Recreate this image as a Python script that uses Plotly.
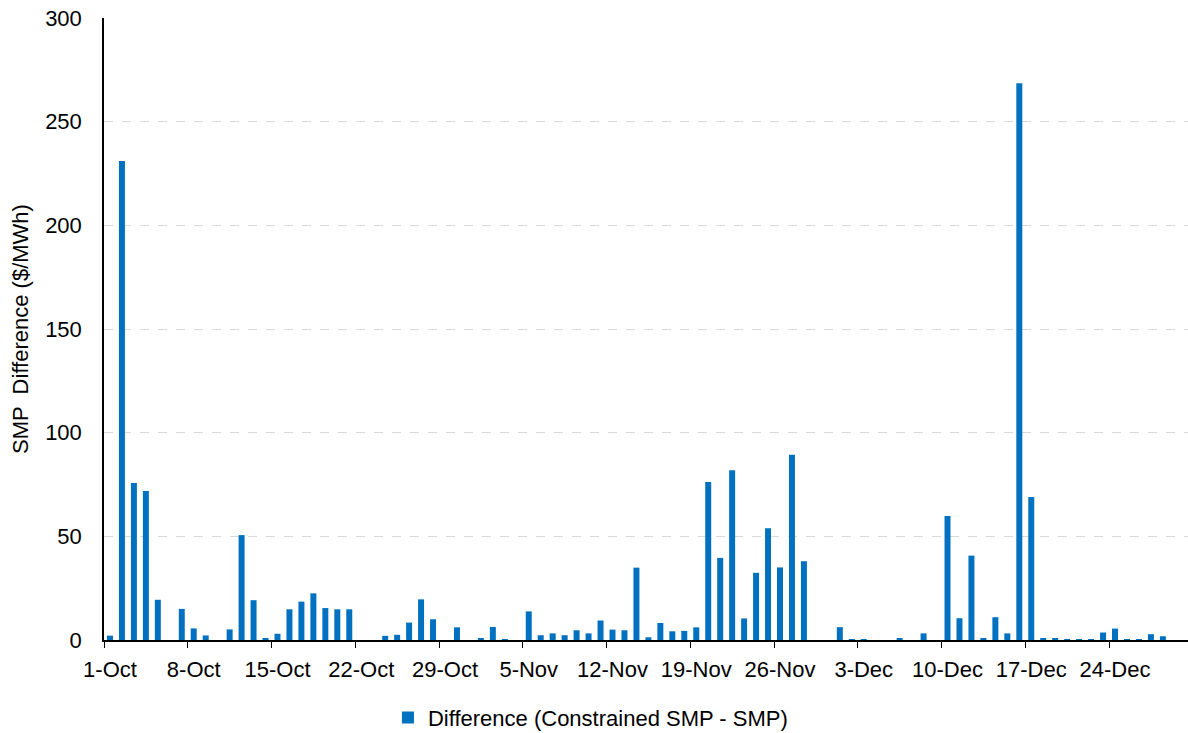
import pandas as pd
import plotly.graph_objects as go

# Daily categories, 1 Oct to 30 Dec
days = pd.date_range("2018-10-01", "2018-12-30", freq="D")
categories = [f"{d.day}-{d.strftime('%b')}" for d in days]

# Difference (Constrained SMP - SMP), $/MWh, one value per day
difference = [
    2.1, 231.0, 75.7, 71.9, 19.4, 0.0, 15.0, 5.6, 2.2, 0.0,
    5.1, 50.6, 19.2, 0.8, 3.0, 14.8, 18.5, 22.5, 15.4, 14.8,
    14.8, 0.0, 0.0, 2.0, 2.5, 8.4, 19.6, 10.0, 0.0, 6.1,
    0.0, 0.5, 6.3, 0.3, 0.0, 13.8, 2.3, 3.2, 2.3, 4.7,
    3.2, 9.4, 5.0, 4.7, 34.9, 1.3, 8.2, 4.2, 4.4, 6.1,
    76.2, 39.6, 81.9, 10.4, 32.4, 53.9, 35.0, 89.3, 38.0, 0.0,
    0.0, 6.2, 0.3, 0.2, 0.0, 0.0, 0.7, 0.0, 3.2, 0.0,
    59.8, 10.5, 40.7, 0.6, 11.0, 3.2, 268.5, 69.0, 0.5, 0.6,
    0.4, 0.3, 0.3, 3.6, 5.5, 0.3, 0.3, 2.8, 1.8, 0.0,
    0.0,
]

series_name = "Difference (Constrained SMP - SMP)"
y_title = "SMP  Difference ($/MWh)"
bar_color = "#0070C0"
font_family = "Liberation Sans, Arial, sans-serif"
text_size = 22

fig = go.Figure(
    go.Bar(
        x=categories,
        y=difference,
        name=series_name,
        marker=dict(color=bar_color, line=dict(width=0)),
        width=0.5,
    )
)

fig.update_layout(
    width=1188,
    height=733,
    margin=dict(l=104, r=0, t=18, b=93, autoexpand=False),
    paper_bgcolor="white",
    plot_bgcolor="white",
    font=dict(family=font_family, size=text_size, color="#000000"),
    showlegend=True,
    legend=dict(
        orientation="h",
        xref="container",
        yref="container",
        x=0.497,
        xanchor="center",
        y=0.021,
        yanchor="middle",
        font=dict(size=text_size),
        itemwidth=30,
    ),
)

fig.update_xaxes(
    type="category",
    range=[-0.5, 90.1],
    tickmode="linear",
    tick0=0,
    dtick=7,
    tickson="boundaries",
    ticks="outside",
    ticklen=6,
    tickcolor="#000000",
    showline=True,
    linecolor="#000000",
    linewidth=1.5,
    showgrid=False,
    tickangle=0,
    tickfont=dict(size=text_size),
    ticklabelstandoff=9,
    automargin=False,
)

fig.update_yaxes(
    range=[0, 300],
    dtick=50,
    showline=True,
    linecolor="#000000",
    linewidth=1.5,
    ticks="",
    showgrid=True,
    gridcolor="#D9D9D9",
    griddash="dash",
    gridwidth=1,
    zeroline=False,
    tickfont=dict(size=text_size),
    ticklabelstandoff=16,
    title=dict(text=y_title, font=dict(size=text_size), standoff=10),
    automargin=False,
)

fig.write_html("out.html")
